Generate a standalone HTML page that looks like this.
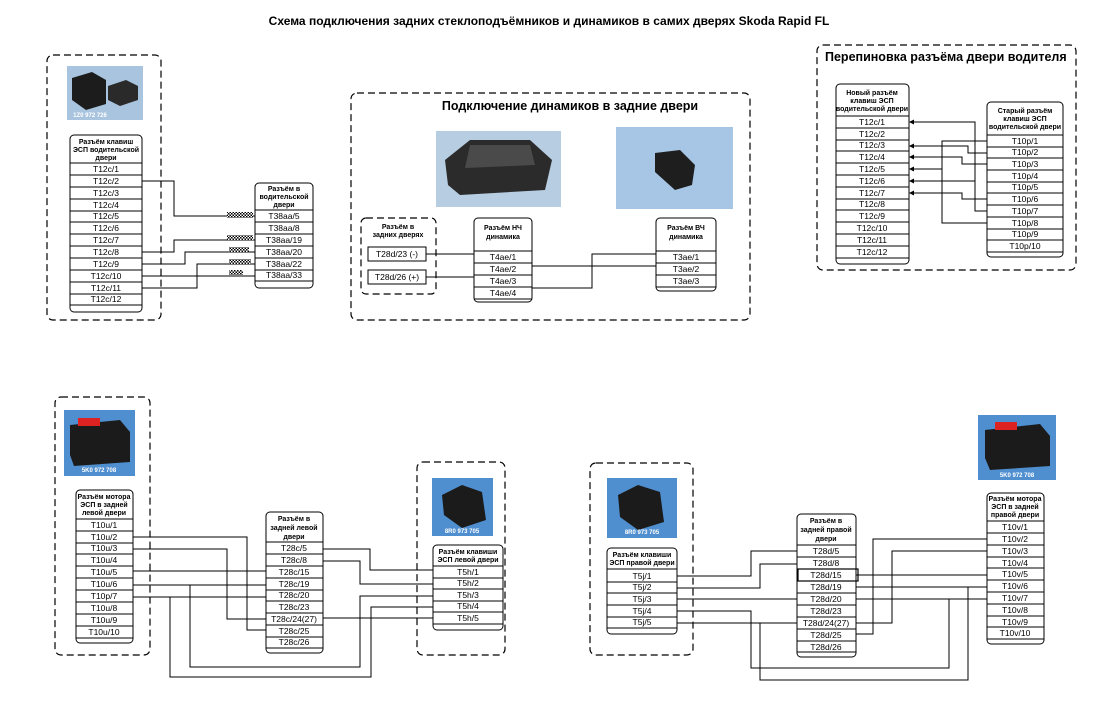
<!DOCTYPE html>
<html><head><meta charset="utf-8"><style>
body{margin:0;background:#fff}
svg{display:block;font-family:"Liberation Sans",sans-serif}
.r{font-size:8.5px;text-anchor:middle}
.h{font-size:7px;font-weight:bold;text-anchor:middle}
.b{fill:#fff;stroke:#000;stroke-width:1}
.d{fill:none;stroke:#000;stroke-width:1.2;stroke-dasharray:7 4}
.w{fill:none;stroke:#000;stroke-width:1}
.l{stroke:#000;stroke-width:1}
.pt{font-size:6px;font-weight:bold;fill:#fff;text-anchor:middle}
</style></head><body>
<svg width="1098" height="712" viewBox="0 0 1098 712" xmlns="http://www.w3.org/2000/svg">
<defs>
<pattern id="hat" width="3" height="3" patternUnits="userSpaceOnUse"><rect width="3" height="3" fill="#fff"/><rect width="1.5" height="1.5" fill="#000"/><rect x="1.5" y="1.5" width="1.5" height="1.5" fill="#000"/></pattern>
</defs>
<text x="549" y="25" font-size="12" font-weight="bold" text-anchor="middle">Схема подключения задних стеклоподъёмников и динамиков в самих дверях Skoda Rapid FL</text>

<!-- ===== TOP LEFT ===== -->
<rect class="d" x="47" y="55" width="114" height="265" rx="6"/>
<rect x="67" y="66" width="76" height="54" fill="#a9c4df"/>
<path d="M72 78 L92 72 L106 80 L106 104 L86 110 L72 100Z" fill="#1c1c1c"/>
<path d="M108 86 L126 80 L138 86 L138 100 L120 106 L108 100Z" fill="#2a2a2a"/>
<text class="pt" x="90" y="117">1Z0 972 726</text>
<rect class="b" x="70" y="135" width="72" height="177" rx="4"/>
<text class="h" x="106" y="144">Разъём клавиш</text><text class="h" x="106" y="152">ЭСП водительской</text><text class="h" x="106" y="160">двери</text>
<g class="l"><line x1="70" y1="163" x2="142" y2="163"/><line x1="70" y1="175" x2="142" y2="175"/><line x1="70" y1="187" x2="142" y2="187"/><line x1="70" y1="199" x2="142" y2="199"/><line x1="70" y1="211" x2="142" y2="211"/><line x1="70" y1="222" x2="142" y2="222"/><line x1="70" y1="234" x2="142" y2="234"/><line x1="70" y1="246" x2="142" y2="246"/><line x1="70" y1="258" x2="142" y2="258"/><line x1="70" y1="270" x2="142" y2="270"/><line x1="70" y1="282" x2="142" y2="282"/><line x1="70" y1="294" x2="142" y2="294"/><line x1="70" y1="305" x2="142" y2="305"/></g>
<g class="r"><text x="106" y="172">T12c/1</text><text x="106" y="184">T12c/2</text><text x="106" y="196">T12c/3</text><text x="106" y="208">T12c/4</text><text x="106" y="219">T12c/5</text><text x="106" y="231">T12c/6</text><text x="106" y="243">T12c/7</text><text x="106" y="255">T12c/8</text><text x="106" y="267">T12c/9</text><text x="106" y="279">T12c/10</text><text x="106" y="291">T12c/11</text><text x="106" y="302">T12c/12</text></g>
<rect class="b" x="255" y="183" width="58" height="105" rx="4"/>
<text class="h" x="284" y="191">Разъём в</text><text class="h" x="284" y="199">водительской</text><text class="h" x="284" y="207">двери</text>
<g class="l"><line x1="255" y1="210" x2="313" y2="210"/><line x1="255" y1="222" x2="313" y2="222"/><line x1="255" y1="234" x2="313" y2="234"/><line x1="255" y1="246" x2="313" y2="246"/><line x1="255" y1="258" x2="313" y2="258"/><line x1="255" y1="270" x2="313" y2="270"/><line x1="255" y1="281" x2="313" y2="281"/></g>
<g class="r"><text x="284" y="219">T38aa/5</text><text x="284" y="231">T38aa/8</text><text x="284" y="243">T38aa/19</text><text x="284" y="255">T38aa/20</text><text x="284" y="267">T38aa/22</text><text x="284" y="278">T38aa/33</text></g>
<g class="w"><polyline points="142,181 174,181 174,216 255,216"/><polyline points="142,252 174,252 174,240 255,240"/><polyline points="142,264 185,264 185,252 255,252"/><polyline points="142,276 255,276"/><polyline points="142,288 197,288 197,264 255,264"/></g>
<rect x="227" y="212" width="26" height="6" fill="url(#hat)"/><rect x="227" y="235" width="26" height="5" fill="url(#hat)"/><rect x="229" y="247" width="20" height="5" fill="url(#hat)"/><rect x="229" y="259" width="22" height="5" fill="url(#hat)"/><rect x="229" y="270" width="14" height="5" fill="url(#hat)"/>

<!-- ===== TOP MIDDLE ===== -->
<rect class="d" x="351" y="93" width="399" height="227" rx="6"/>
<text x="570" y="110" font-size="12.5" font-weight="bold" text-anchor="middle">Подключение динамиков в задние двери</text>
<rect x="436" y="131" width="125" height="76" fill="#b7cde2"/>
<path d="M445 160 L470 140 L530 140 L552 160 L545 190 L460 195 L448 185Z" fill="#2b2b2b"/>
<path d="M470 145 L530 145 L535 165 L465 168Z" fill="#4a4a4a"/>
<rect x="616" y="127" width="117" height="82" fill="#a7c6e6"/>
<path d="M655 153 L680 150 L695 165 L692 185 L675 190 L655 172Z" fill="#1e1e1e"/>
<rect class="d" x="361" y="218" width="75" height="76" rx="5"/>
<text class="h" x="398" y="229" font-weight="normal">Разъём в</text><text class="h" x="398" y="237" font-weight="normal">задних дверях</text>
<rect class="b" x="368" y="247" width="58" height="14"/><text class="r" x="397" y="257">T28d/23 (-)</text>
<rect class="b" x="368" y="270" width="58" height="14"/><text class="r" x="397" y="280">T28d/26 (+)</text>
<rect class="b" x="474" y="218" width="58" height="84" rx="4"/>
<text class="h" x="503" y="230">Разъём НЧ</text><text class="h" x="503" y="239">динамика</text>
<g class="l"><line x1="474" y1="251" x2="532" y2="251"/><line x1="474" y1="263" x2="532" y2="263"/><line x1="474" y1="275" x2="532" y2="275"/><line x1="474" y1="287" x2="532" y2="287"/><line x1="474" y1="299" x2="532" y2="299"/></g>
<g class="r"><text x="503" y="260">T4ae/1</text><text x="503" y="272">T4ae/2</text><text x="503" y="284">T4ae/3</text><text x="503" y="296">T4ae/4</text></g>
<rect class="b" x="656" y="218" width="60" height="73" rx="4"/>
<text class="h" x="686" y="230">Разъём ВЧ</text><text class="h" x="686" y="239">динамика</text>
<g class="l"><line x1="656" y1="251" x2="716" y2="251"/><line x1="656" y1="263" x2="716" y2="263"/><line x1="656" y1="275" x2="716" y2="275"/><line x1="656" y1="287" x2="716" y2="287"/></g>
<g class="r"><text x="686" y="260">T3ae/1</text><text x="686" y="272">T3ae/2</text><text x="686" y="284">T3ae/3</text></g>
<g class="w"><line x1="426" y1="254" x2="474" y2="254"/><line x1="426" y1="277" x2="474" y2="277"/><line x1="532" y1="266" x2="656" y2="266"/><polyline points="532,288 592,288 592,254 656,254"/></g>

<!-- ===== TOP RIGHT ===== -->
<rect class="d" x="817" y="45" width="259" height="225" rx="6"/>
<text x="825" y="61" font-size="12.5" font-weight="bold">Перепиновка разъёма двери водителя</text>
<rect class="b" x="836" y="84" width="73" height="180" rx="4"/>
<text class="h" x="872" y="95" font-weight="normal">Новый разъём</text><text class="h" x="872" y="103" font-weight="normal">клавиш ЭСП</text><text class="h" x="872" y="111" font-weight="normal">водительской двери</text>
<g class="l"><line x1="836" y1="116" x2="909" y2="116"/><line x1="836" y1="128" x2="909" y2="128"/><line x1="836" y1="140" x2="909" y2="140"/><line x1="836" y1="151" x2="909" y2="151"/><line x1="836" y1="163" x2="909" y2="163"/><line x1="836" y1="175" x2="909" y2="175"/><line x1="836" y1="187" x2="909" y2="187"/><line x1="836" y1="199" x2="909" y2="199"/><line x1="836" y1="210" x2="909" y2="210"/><line x1="836" y1="222" x2="909" y2="222"/><line x1="836" y1="234" x2="909" y2="234"/><line x1="836" y1="246" x2="909" y2="246"/><line x1="836" y1="258" x2="909" y2="258"/></g>
<g class="r"><text x="872" y="125">T12c/1</text><text x="872" y="137">T12c/2</text><text x="872" y="148">T12c/3</text><text x="872" y="160">T12c/4</text><text x="872" y="172">T12c/5</text><text x="872" y="184">T12c/6</text><text x="872" y="196">T12c/7</text><text x="872" y="207">T12c/8</text><text x="872" y="219">T12c/9</text><text x="872" y="231">T12c/10</text><text x="872" y="243">T12c/11</text><text x="872" y="255">T12c/12</text></g>
<rect class="b" x="987" y="102" width="76" height="155" rx="4"/>
<text class="h" x="1025" y="113" font-weight="normal">Старый разъём</text><text class="h" x="1025" y="121" font-weight="normal">клавиш ЭСП</text><text class="h" x="1025" y="129" font-weight="normal">водительской двери</text>
<g class="l"><line x1="987" y1="135" x2="1063" y2="135"/><line x1="987" y1="147" x2="1063" y2="147"/><line x1="987" y1="158" x2="1063" y2="158"/><line x1="987" y1="170" x2="1063" y2="170"/><line x1="987" y1="182" x2="1063" y2="182"/><line x1="987" y1="193" x2="1063" y2="193"/><line x1="987" y1="205" x2="1063" y2="205"/><line x1="987" y1="217" x2="1063" y2="217"/><line x1="987" y1="229" x2="1063" y2="229"/><line x1="987" y1="240" x2="1063" y2="240"/><line x1="987" y1="252" x2="1063" y2="252"/></g>
<g class="r"><text x="1025" y="144">T10p/1</text><text x="1025" y="155">T10p/2</text><text x="1025" y="167">T10p/3</text><text x="1025" y="179">T10p/4</text><text x="1025" y="190">T10p/5</text><text x="1025" y="202">T10p/6</text><text x="1025" y="214">T10p/7</text><text x="1025" y="226">T10p/8</text><text x="1025" y="237">T10p/9</text><text x="1025" y="249">T10p/10</text></g>
<g class="w"><polyline points="912,122 975,122 975,211 987,211"/><line x1="912" y1="181" x2="975" y2="181"/><polyline points="912,146 968,146 968,153 987,153"/><polyline points="912,157 962,157 962,164 987,164"/><polyline points="987,141 942,141 942,223 987,223"/><line x1="912" y1="169" x2="942" y2="169"/><polyline points="912,193 962,193 962,199 987,199"/></g>
<g fill="#000"><path d="M909 122 l5 -2.5 v5z"/><path d="M909 146 l5 -2.5 v5z"/><path d="M909 157 l5 -2.5 v5z"/><path d="M909 169 l5 -2.5 v5z"/><path d="M909 181 l5 -2.5 v5z"/><path d="M909 193 l5 -2.5 v5z"/></g>

<!-- ===== BOTTOM LEFT ===== -->
<rect class="d" x="55" y="397" width="95" height="258" rx="6"/>
<rect x="64" y="410" width="71" height="66" fill="#4f8fd0"/>
<path d="M70 425 L120 420 L130 432 L130 462 L74 466 L70 455Z" fill="#1b1b1b"/>
<rect x="78" y="418" width="22" height="8" fill="#d22"/>
<text class="pt" x="99" y="472">5K0 972 708</text>
<rect class="b" x="76" y="490" width="57" height="153" rx="4"/>
<text class="h" x="104" y="499" font-weight="normal">Разъём мотора</text><text class="h" x="104" y="507" font-weight="normal">ЭСП в задней</text><text class="h" x="104" y="515" font-weight="normal">левой двери</text>
<g class="l"><line x1="76" y1="519" x2="133" y2="519"/><line x1="76" y1="531" x2="133" y2="531"/><line x1="76" y1="543" x2="133" y2="543"/><line x1="76" y1="554" x2="133" y2="554"/><line x1="76" y1="566" x2="133" y2="566"/><line x1="76" y1="578" x2="133" y2="578"/><line x1="76" y1="590" x2="133" y2="590"/><line x1="76" y1="602" x2="133" y2="602"/><line x1="76" y1="614" x2="133" y2="614"/><line x1="76" y1="626" x2="133" y2="626"/><line x1="76" y1="638" x2="133" y2="638"/></g>
<g class="r"><text x="104" y="528">T10u/1</text><text x="104" y="540">T10u/2</text><text x="104" y="551">T10u/3</text><text x="104" y="563">T10u/4</text><text x="104" y="575">T10u/5</text><text x="104" y="587">T10u/6</text><text x="104" y="599">T10p/7</text><text x="104" y="611">T10u/8</text><text x="104" y="623">T10u/9</text><text x="104" y="635">T10u/10</text></g>
<rect class="b" x="266" y="512" width="57" height="141" rx="4"/>
<text class="h" x="294" y="521" font-weight="normal">Разъём в</text><text class="h" x="294" y="530" font-weight="normal">задней левой</text><text class="h" x="294" y="539" font-weight="normal">двери</text>
<g class="l"><line x1="266" y1="542" x2="323" y2="542"/><line x1="266" y1="554" x2="323" y2="554"/><line x1="266" y1="566" x2="323" y2="566"/><line x1="266" y1="578" x2="323" y2="578"/><line x1="266" y1="590" x2="323" y2="590"/><line x1="266" y1="601" x2="323" y2="601"/><line x1="266" y1="613" x2="323" y2="613"/><line x1="266" y1="625" x2="323" y2="625"/><line x1="266" y1="637" x2="323" y2="637"/><line x1="266" y1="648" x2="323" y2="648"/></g>
<g class="r"><text x="294" y="551">T28c/5</text><text x="294" y="563">T28c/8</text><text x="294" y="575">T28c/15</text><text x="294" y="587">T28c/19</text><text x="294" y="598">T28c/20</text><text x="294" y="610">T28c/23</text><text x="294" y="622">T28c/24(27)</text><text x="294" y="634">T28c/25</text><text x="294" y="645">T28c/26</text></g>
<rect class="d" x="417" y="462" width="88" height="193" rx="6"/>
<rect x="432" y="478" width="61" height="58" fill="#4f8fd0"/>
<path d="M442 495 L462 485 L482 492 L486 520 L462 528 L444 515Z" fill="#1b1b1b"/>
<text class="pt" x="462" y="533">8R0 973 705</text>
<rect class="b" x="433" y="545" width="70" height="85" rx="4"/>
<text class="h" x="468" y="554" font-weight="normal">Разъём клавиши</text><text class="h" x="468" y="562" font-weight="normal">ЭСП левой двери</text>
<g class="l"><line x1="433" y1="566" x2="503" y2="566"/><line x1="433" y1="578" x2="503" y2="578"/><line x1="433" y1="589" x2="503" y2="589"/><line x1="433" y1="601" x2="503" y2="601"/><line x1="433" y1="612" x2="503" y2="612"/><line x1="433" y1="624" x2="503" y2="624"/></g>
<g class="r"><text x="468" y="575">T5h/1</text><text x="468" y="586">T5h/2</text><text x="468" y="598">T5h/3</text><text x="468" y="609">T5h/4</text><text x="468" y="621">T5h/5</text></g>
<g class="w"><polyline points="133,537 247,537 247,630 266,630"/><polyline points="133,549 227,549 227,619 266,619"/><line x1="133" y1="571" x2="266" y2="571"/><line x1="133" y1="585" x2="266" y2="585"/><line x1="133" y1="597" x2="266" y2="597"/><polyline points="190,585 190,667 360,667 360,596 433,596"/><polyline points="170,597 170,677 371,677 371,607 433,607"/><line x1="323" y1="618" x2="433" y2="618"/><polyline points="323,549 370,549 370,570 433,570"/><polyline points="323,561 360,561 360,584 433,584"/></g>

<!-- ===== BOTTOM RIGHT ===== -->
<rect class="d" x="590" y="463" width="103" height="192" rx="6"/>
<rect x="607" y="478" width="70" height="60" fill="#4f8fd0"/>
<path d="M618 495 L638 485 L660 492 L664 522 L638 530 L620 517Z" fill="#1b1b1b"/>
<text class="pt" x="642" y="534">8R0 973 705</text>
<rect class="b" x="607" y="548" width="70" height="86" rx="4"/>
<text class="h" x="642" y="557" font-weight="normal">Разъём клавиши</text><text class="h" x="642" y="565" font-weight="normal">ЭСП правой двери</text>
<g class="l"><line x1="607" y1="569" x2="677" y2="569"/><line x1="607" y1="582" x2="677" y2="582"/><line x1="607" y1="593" x2="677" y2="593"/><line x1="607" y1="605" x2="677" y2="605"/><line x1="607" y1="617" x2="677" y2="617"/><line x1="607" y1="628" x2="677" y2="628"/></g>
<g class="r"><text x="642" y="579">T5j/1</text><text x="642" y="590">T5j/2</text><text x="642" y="602">T5j/3</text><text x="642" y="614">T5j/4</text><text x="642" y="625">T5j/5</text></g>
<rect class="b" x="797" y="514" width="59" height="143" rx="4"/>
<text class="h" x="826" y="523" font-weight="normal">Разъём в</text><text class="h" x="826" y="532" font-weight="normal">задней правой</text><text class="h" x="826" y="541" font-weight="normal">двери</text>
<g class="l"><line x1="797" y1="545" x2="856" y2="545"/><line x1="797" y1="557" x2="856" y2="557"/><line x1="797" y1="569" x2="856" y2="569"/><line x1="797" y1="581" x2="856" y2="581"/><line x1="797" y1="593" x2="856" y2="593"/><line x1="797" y1="605" x2="856" y2="605"/><line x1="797" y1="617" x2="856" y2="617"/><line x1="797" y1="629" x2="856" y2="629"/><line x1="797" y1="641" x2="856" y2="641"/><line x1="797" y1="652" x2="856" y2="652"/></g>
<rect x="798" y="569" width="60" height="12" fill="none" stroke="#000" stroke-width="1.2"/>
<g class="r"><text x="826" y="554">T28d/5</text><text x="826" y="566">T28d/8</text><text x="826" y="578">T28d/15</text><text x="826" y="590">T28d/19</text><text x="826" y="602">T28d/20</text><text x="826" y="614">T28d/23</text><text x="826" y="626">T28d/24(27)</text><text x="826" y="638">T28d/25</text><text x="826" y="650">T28d/26</text></g>
<rect x="978" y="415" width="78" height="65" fill="#4f8fd0"/>
<path d="M985 430 L1040 424 L1050 436 L1050 466 L990 470 L985 458Z" fill="#1b1b1b"/>
<rect x="995" y="422" width="22" height="8" fill="#d22"/>
<text class="pt" x="1017" y="477">5K0 972 708</text>
<rect class="b" x="987" y="493" width="57" height="151" rx="4"/>
<text class="h" x="1015" y="501" font-weight="normal">Разъём мотора</text><text class="h" x="1015" y="509" font-weight="normal">ЭСП в задней</text><text class="h" x="1015" y="517" font-weight="normal">правой двери</text>
<g class="l"><line x1="987" y1="521" x2="1044" y2="521"/><line x1="987" y1="533" x2="1044" y2="533"/><line x1="987" y1="545" x2="1044" y2="545"/><line x1="987" y1="557" x2="1044" y2="557"/><line x1="987" y1="568" x2="1044" y2="568"/><line x1="987" y1="580" x2="1044" y2="580"/><line x1="987" y1="592" x2="1044" y2="592"/><line x1="987" y1="604" x2="1044" y2="604"/><line x1="987" y1="616" x2="1044" y2="616"/><line x1="987" y1="627" x2="1044" y2="627"/><line x1="987" y1="639" x2="1044" y2="639"/></g>
<g class="r"><text x="1015" y="530">T10v/1</text><text x="1015" y="542">T10v/2</text><text x="1015" y="554">T10v/3</text><text x="1015" y="566">T10v/4</text><text x="1015" y="577">T10v/5</text><text x="1015" y="589">T10v/6</text><text x="1015" y="601">T10v/7</text><text x="1015" y="613">T10v/8</text><text x="1015" y="625">T10v/9</text><text x="1015" y="636">T10v/10</text></g>
<g class="w"><polyline points="677,576 751,576 751,551 797,551"/><polyline points="677,588 760,588 760,564 797,564"/><line x1="677" y1="599" x2="797" y2="599"/><polyline points="677,611 751,611 751,668 949,668 949,599 987,599"/><line x1="677" y1="623" x2="797" y2="623"/><polyline points="760,623 760,680 968,680 968,587 987,587"/><line x1="856" y1="575" x2="987" y2="575"/><line x1="856" y1="587" x2="987" y2="587"/><line x1="856" y1="599" x2="987" y2="599"/><polyline points="987,539 873,539 873,634 856,634"/><polyline points="987,551 892,551 892,623 856,623"/></g>
</svg>
</body></html>
